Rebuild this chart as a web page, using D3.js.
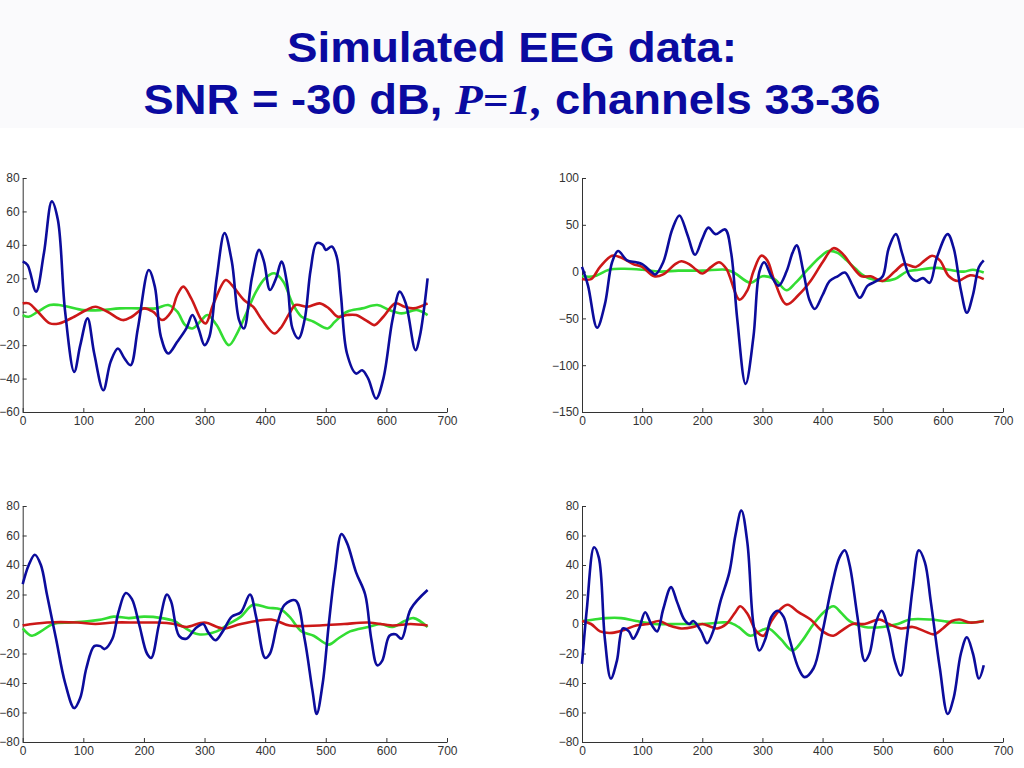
<!DOCTYPE html>
<html><head><meta charset="utf-8">
<script src="https://cdn.jsdelivr.net/npm/d3@7"></script>
<style>body{margin:0;background:#fff}svg{display:block}</style>
</head><body>
<svg id="c" width="1024" height="768"></svg>
<script>
const xTicks=[0,100,200,300,400,500,600,700];
const yTicksA=[-60,-40,-20,0,20,40,60,80];
const yTicksB=[-150,-100,-50,0,50,100];
const yTicksC=[-80,-60,-40,-20,0,20,40,60,80];

const tlBlue=[[0,30],[8,28],[22,12],[35,35],[48,66],[58,55],[70,0],[85,-36],[95,-20],[107,-4],[118,-25],[133,-47],[145,-30],[157,-22],[168,-28],[178,-32],[190,-10],[208,25],[218,15],[228,-15],[240,-25],[255,-18],[270,-10],[280,-2],[290,-10],[300,-20],[308,-15],[320,20],[333,47],[345,30],[357,-5],[365,-10],[378,20],[390,37],[398,30],[408,13],[418,20],[427,30],[437,15],[445,-10],[455,-16],[465,-5],[475,25],[485,41],[495,40],[500,37],[510,39],[518,33],[525,10],[535,-25],[550,-37],[560,-35],[570,-40],[583,-52],[595,-40],[610,-5],[622,12],[632,5],[648,-23],[655,-15],[668,20]];
const tlGreen=[[0,-2],[10,-3],[25,0],[45,4],[60,4],[75,3],[100,1],[130,1],[160,2],[190,2],[220,2],[240,4],[255,0],[268,-8],[280,-10],[295,-5],[305,-2],[320,-8],[340,-20],[355,-12],[370,0],[385,12],[400,20],[415,23],[430,18],[445,5],[460,-3],[480,-6],[503,-10],[515,-6],[535,0],[560,2],[585,4],[605,1],[625,-1],[650,1],[668,-2]];
const tlRed=[[0,5],[10,5],[25,0],[45,-7],[60,-7],[85,-3],[105,1],[120,3],[140,0],[165,-5],[180,-3],[200,2],[215,0],[230,-5],[245,0],[255,10],[265,15],[278,8],[295,-5],[302,-7],[315,5],[335,19],[345,16],[365,7],[380,3],[395,-5],[415,-13],[425,-10],[440,-1],[450,4],[470,3],[490,5],[505,2],[520,-3],[535,-2],[550,-2],[570,-6],[580,-8],[595,-3],[615,5],[630,3],[645,2],[668,5]];

const trBlue=[[0,5],[10,-15],[25,-60],[38,-35],[50,10],[60,22],[75,12],[90,10],[100,8],[115,0],[122,-3],[135,10],[150,45],[162,60],[175,40],[188,18],[200,35],[210,47],[222,40],[238,45],[248,20],[258,-50],[272,-120],[285,-70],[295,0],[303,10],[315,-5],[327,-15],[340,0],[350,20],[357,28],[368,0],[378,-30],[387,-40],[400,-25],[412,-10],[425,-5],[437,-1],[450,-15],[462,-28],[475,-15],[490,-10],[500,-5],[510,25],[522,40],[532,20],[545,-5],[555,-10],[567,-7],[578,-12],[590,15],[608,40],[618,25],[630,-20],[640,-44],[650,-25],[660,5],[668,12]];
const trGreen=[[0,-5],[20,-5],[45,2],[70,3],[100,2],[130,0],[160,1],[200,1],[240,2],[255,-2],[280,-12],[300,-5],[320,-8],[340,-20],[355,-12],[375,2],[395,15],[410,22],[425,20],[440,12],[455,3],[470,-5],[500,-10],[520,-8],[540,0],[560,2],[590,4],[610,2],[635,0],[650,2],[668,-1]];
const trRed=[[0,-8],[15,-8],[30,5],[50,17],[65,15],[85,8],[100,5],[120,-5],[135,-3],[155,8],[165,11],[178,8],[190,2],[200,-2],[215,5],[228,10],[240,3],[262,-30],[275,-20],[285,0],[298,17],[308,12],[320,-10],[340,-35],[360,-25],[380,-10],[400,10],[418,25],[432,20],[450,5],[465,-5],[480,-5],[500,-10],[520,0],[535,8],[555,5],[570,12],[582,17],[595,12],[610,-5],[625,-10],[645,-4],[668,-8]];

const blBlue=[[0,27],[10,40],[20,47],[30,40],[40,20],[55,-10],[70,-40],[85,-57],[95,-50],[105,-30],[118,-15],[128,-15],[135,-17],[148,-10],[158,8],[170,21],[180,17],[192,0],[205,-20],[212,-23],[225,0],[238,20],[245,15],[258,-8],[270,-10],[285,-3],[298,0],[305,-5],[318,-11],[330,-5],[345,5],[360,8],[375,20],[385,5],[400,-23],[408,-20],[420,0],[432,13],[450,16],[465,-10],[478,-45],[485,-61],[495,-40],[505,0],[515,35],[526,61],[535,55],[550,35],[565,20],[575,-10],[585,-28],[593,-25],[605,-8],[615,-7],[625,-10],[640,10],[668,23]];
const blGreen=[[0,-3],[15,-8],[30,-5],[50,0],[80,1],[110,2],[130,3],[150,5],[175,4],[200,5],[230,4],[250,2],[265,-2],[290,-7],[320,-5],[340,0],[360,5],[380,13],[405,11],[425,10],[440,5],[460,-5],[480,-8],[505,-14],[520,-10],[540,-5],[570,-2],[590,0],[610,-2],[630,2],[645,4],[668,-2]];
const blRed=[[0,-1],[40,1],[90,1],[120,0],[150,1],[190,1],[220,1],[250,0],[270,-2],[300,1],[330,-3],[360,0],[410,3],[440,-1],[490,-1],[530,0],[570,1],[610,-1],[640,0],[668,-1]];

const brBlue=[[0,-27],[8,10],[20,52],[28,45],[38,-10],[48,-37],[58,-25],[68,-3],[78,-5],[85,-10],[95,-3],[105,8],[115,0],[125,-5],[135,10],[148,25],[158,15],[170,3],[178,0],[185,2],[198,-5],[208,-13],[218,-5],[230,15],[245,35],[255,60],[265,77],[275,55],[285,0],[295,-18],[305,-10],[315,5],[325,9],[335,5],[345,-10],[360,-30],[370,-36],[385,-30],[400,-5],[415,25],[428,45],[437,50],[445,40],[458,5],[470,-25],[478,-20],[488,0],[498,9],[510,-5],[520,-25],[530,-35],[540,-10],[550,25],[560,50],[570,42],[580,15],[595,-30],[608,-61],[618,-50],[630,-20],[640,-9],[650,-20],[660,-37],[668,-28]];
const brGreen=[[0,2],[20,3],[40,4],[65,4],[90,2],[120,0],[160,0],[200,0],[230,1],[245,1],[260,-2],[280,-8],[295,-5],[310,-3],[330,-10],[350,-18],[365,-12],[385,0],[402,8],[418,12],[430,8],[445,2],[470,-2],[500,-2],[525,0],[545,3],[580,3],[600,2],[620,1],[650,1],[668,2]];
const brRed=[[0,2],[15,0],[30,-5],[50,-6],[70,-4],[90,-1],[110,0],[128,2],[145,-1],[165,-3],[185,-2],[200,0],[215,-2],[225,-3],[240,0],[255,8],[263,12],[275,7],[290,-5],[302,-8],[315,2],[330,10],[342,13],[360,8],[380,3],[400,-5],[418,-8],[430,-5],[450,0],[470,0],[495,3],[510,0],[530,-3],[550,-2],[570,-5],[585,-7],[600,-3],[615,2],[628,3],[645,1],[668,2]];

const svg=d3.select('#c');
svg.append('rect').attr('x',0).attr('y',0).attr('width',1024).attr('height',128).attr('fill','#fafafc');
const tf='Liberation Sans, Arial';
svg.append('text').attr('x',512).attr('y',62).attr('text-anchor','middle')
 .attr('font-family',tf).attr('font-weight','bold').attr('font-size',42).attr('fill','#0a0aa0')
 .attr('textLength',450).attr('lengthAdjust','spacingAndGlyphs')
 .text('Simulated EEG data:');
const t2=svg.append('text').attr('x',512).attr('y',114).attr('text-anchor','middle')
 .attr('font-family',tf).attr('font-weight','bold').attr('font-size',42).attr('fill','#0a0aa0')
 .attr('textLength',737).attr('lengthAdjust','spacingAndGlyphs');
t2.append('tspan').text('SNR = -30 dB, ');
t2.append('tspan').attr('font-family','Liberation Serif, Times New Roman').attr('font-style','italic').text('P=1,');
t2.append('tspan').text(' channels 33-36');

const colors={blue:'#0c0c9c',green:'#33dd33',red:'#cc1818'};
const panels=[
 {x0:22.7,x1:447,y0:412,y1:178,dom:[-60,80],yt:yTicksA,s:[tlGreen,tlRed,tlBlue]},
 {x0:582,x1:1003,y0:412,y1:178,dom:[-150,100],yt:yTicksB,s:[trGreen,trRed,trBlue]},
 {x0:22.7,x1:447,y0:742,y1:506,dom:[-80,80],yt:yTicksC,s:[blGreen,blRed,blBlue]},
 {x0:582,x1:1003,y0:742,y1:506,dom:[-80,80],yt:yTicksC,s:[brGreen,brRed,brBlue]}
];
const cols=[colors.green,colors.red,colors.blue];
panels.forEach(p=>{
 const x=d3.scaleLinear().domain([0,700]).range([p.x0,p.x1]);
 const y=d3.scaleLinear().domain(p.dom).range([p.y0,p.y1]);
 const g=svg.append('g');
 const ax=g.append('g').attr('transform',`translate(0,${p.y0})`).call(d3.axisBottom(x).tickValues(xTicks).tickSize(-4).tickSizeOuter(0).tickPadding(4));
 const ay=g.append('g').attr('transform',`translate(${p.x0},0)`).call(d3.axisLeft(y).tickValues(p.yt).tickSize(-4).tickSizeOuter(0).tickPadding(3));
 [ax,ay].forEach(a=>{a.selectAll('text').attr('font-family',tf).attr('font-size',12).attr('fill','#333');
   a.selectAll('line,path').attr('stroke','#333');});
 const line=d3.line().x(d=>x(d[0])).y(d=>y(d[1])).curve(d3.curveCatmullRom.alpha(0.5));
 p.s.forEach((s,i)=>g.append('path').attr('d',line(s)).attr('fill','none').attr('stroke',cols[i]).attr('stroke-width',2.6).attr('stroke-linejoin','round'));
});
</script>
</body></html>
